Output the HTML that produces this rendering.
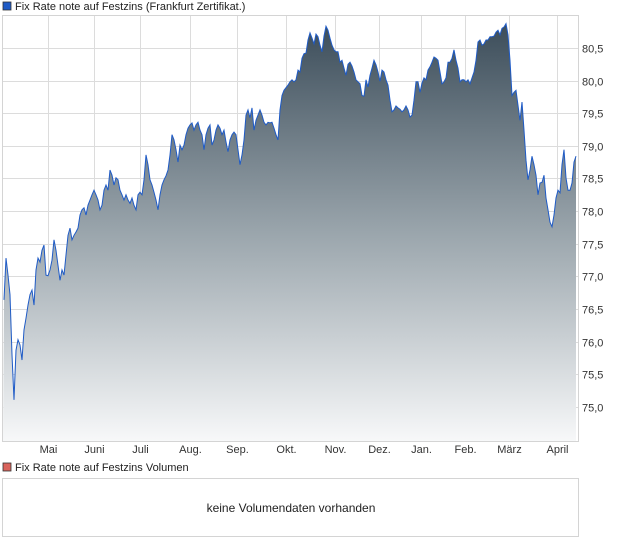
<!DOCTYPE html>
<html><head><meta charset="utf-8"><style>
body{margin:0;background:#fff;width:620px;height:546px;overflow:hidden;font-family:"Liberation Sans",sans-serif;}
svg text{font-family:"Liberation Sans",sans-serif;}
</style></head><body>
<svg id="chart" width="620" height="546" xmlns="http://www.w3.org/2000/svg">
<defs><linearGradient id="fillGrad" x1="0" y1="0" x2="0" y2="1">
<stop offset="0" stop-color="#3c4d5a"/><stop offset="0.5" stop-color="#9aa5ac"/><stop offset="1" stop-color="#f7f8f9"/></linearGradient></defs>
<rect x="3" y="2" width="8" height="8" fill="#1f5bc6" stroke="#333" stroke-width="0.8"/>
<text x="15" y="10" font-size="11" fill="#222">Fix Rate note auf Festzins (Frankfurt Zertifikat.)</text>
<g id="grid"></g>
<g id="series"></g>
<rect x="2.5" y="15.5" width="576" height="426" fill="none" stroke="#d4d4d4"/>
<g id="yaxis"></g><g id="xaxis"></g>
<rect x="3" y="463" width="8" height="8" fill="#d9635c" stroke="#333" stroke-width="0.8"/>
<text x="15" y="471" font-size="11" fill="#222">Fix Rate note auf Festzins Volumen</text>
<rect x="2.5" y="478.5" width="576" height="58" fill="#fff" stroke="#d4d4d4"/>
<text x="291" y="512" font-size="12" fill="#222" text-anchor="middle">keine Volumendaten vorhanden</text>
</svg>
<script>
const prices=[76.64,77.28,77.02,76.72,75.80,75.11,75.87,76.03,75.95,75.72,76.18,76.36,76.56,76.72,76.79,76.56,77.10,77.28,77.22,77.40,77.48,77.02,77.01,77.10,77.25,77.56,77.40,77.17,76.94,77.10,77.02,77.33,77.63,77.74,77.56,77.63,77.68,77.74,77.94,78.02,78.05,77.94,78.09,78.17,78.25,78.32,78.25,78.17,78.02,78.09,78.32,78.40,78.32,78.63,78.55,78.40,78.51,78.48,78.32,78.25,78.17,78.25,78.17,78.12,78.20,78.09,78.02,78.25,78.29,78.25,78.48,78.86,78.71,78.48,78.40,78.29,78.17,78.02,78.25,78.40,78.48,78.54,78.63,78.86,79.17,79.09,78.94,78.75,79.01,78.94,79.01,79.17,79.27,79.32,79.35,79.24,79.32,79.36,79.24,79.17,78.94,79.17,79.27,79.32,79.01,79.09,79.24,79.32,79.27,79.17,79.24,79.06,78.91,79.09,79.17,79.21,79.17,78.94,78.71,78.86,79.09,79.47,79.55,79.43,79.58,79.24,79.39,79.47,79.55,79.47,79.36,79.32,79.36,79.35,79.36,79.27,79.17,79.09,79.55,79.77,79.85,79.89,79.93,79.98,80.01,79.98,80.01,80.16,80.13,80.34,80.41,80.42,80.62,80.73,80.65,80.56,80.71,80.67,80.54,80.44,80.68,80.83,80.77,80.65,80.54,80.47,80.44,80.44,80.28,80.31,80.19,80.08,80.25,80.28,80.22,80.13,80.01,79.98,79.95,79.77,79.76,80.01,79.90,80.08,80.19,80.31,80.24,80.13,79.99,80.16,80.13,80.01,79.93,79.70,79.52,79.55,79.61,79.58,79.56,79.52,79.55,79.61,79.55,79.44,79.47,79.70,79.98,79.98,79.82,79.96,80.04,80.01,80.16,80.21,80.28,80.36,80.34,80.31,80.13,79.95,79.98,80.04,80.28,80.28,80.34,80.47,80.31,80.19,79.98,80.01,80.01,79.98,80.01,79.95,80.04,80.13,80.31,80.59,80.62,80.54,80.56,80.62,80.62,80.67,80.67,80.68,80.74,80.77,80.70,80.80,80.82,80.87,80.70,80.31,79.77,79.82,79.85,79.62,79.39,79.67,79.24,78.78,78.48,78.63,78.84,78.71,78.55,78.25,78.43,78.44,78.55,78.20,78.02,77.83,77.76,77.94,78.20,78.32,78.28,78.71,78.94,78.51,78.32,78.32,78.43,78.75,78.84];
const monthLabels=["Mai","Juni","Juli","Aug.","Sep.","Okt.","Nov.","Dez.","Jan.","Feb.","März","April"];
const monthTickIdx=[22,45,68,93,116.5,141,165.5,187.5,208.5,230.5,252.5,276.5];
const yTicks=[75.0,75.5,76.0,76.5,77.0,77.5,78.0,78.5,79.0,79.5,80.0,80.5];
const NS="http://www.w3.org/2000/svg";
const xs=i=>4+i*2;
const ys=v=>407-(v-75)*65.3;
const PT=16,PB=441,PL=3,PR=578;
function mk(t,a,p){const e=document.createElementNS(NS,t);for(const k in a)e.setAttribute(k,a[k]);p.appendChild(e);return e;}
const grid=document.getElementById('grid'),yax=document.getElementById('yaxis'),xax=document.getElementById('xaxis'),ser=document.getElementById('series');
yTicks.forEach(v=>{const y=Math.round(ys(v))+0.5;
const l=mk('line',{x1:PL,x2:PR,y1:y,y2:y,stroke:'#dcdcdc','stroke-width':1},grid);


const t=mk('text',{x:582,y:y+4,'font-size':11,fill:'#333'},yax);t.textContent=v.toFixed(1).replace('.',',');

});
monthTickIdx.forEach((m,k)=>{const x=Math.round(xs(m))+0.5;
const l=mk('line',{x1:x,x2:x,y1:PT,y2:PB,stroke:'#dcdcdc','stroke-width':1},grid);


const t=mk('text',{x:x,y:453,'font-size':11,fill:'#333','text-anchor':'middle'},xax);t.textContent=monthLabels[k];

});
let d='',a='M'+PL+','+PB;
prices.forEach((v,i)=>{const x=xs(i),y=ys(v);d+=(i?'L':'M')+x+','+y.toFixed(1);a+='L'+x+','+y.toFixed(1);});
a+='L'+xs(prices.length-1)+','+PB+'Z';
const area=mk('path',{d:a,fill:'url(#fillGrad)'},ser);


const line=mk('path',{d:d,fill:'none',stroke:'#1f5bc6','stroke-width':1},ser);


</script>
</body></html>
